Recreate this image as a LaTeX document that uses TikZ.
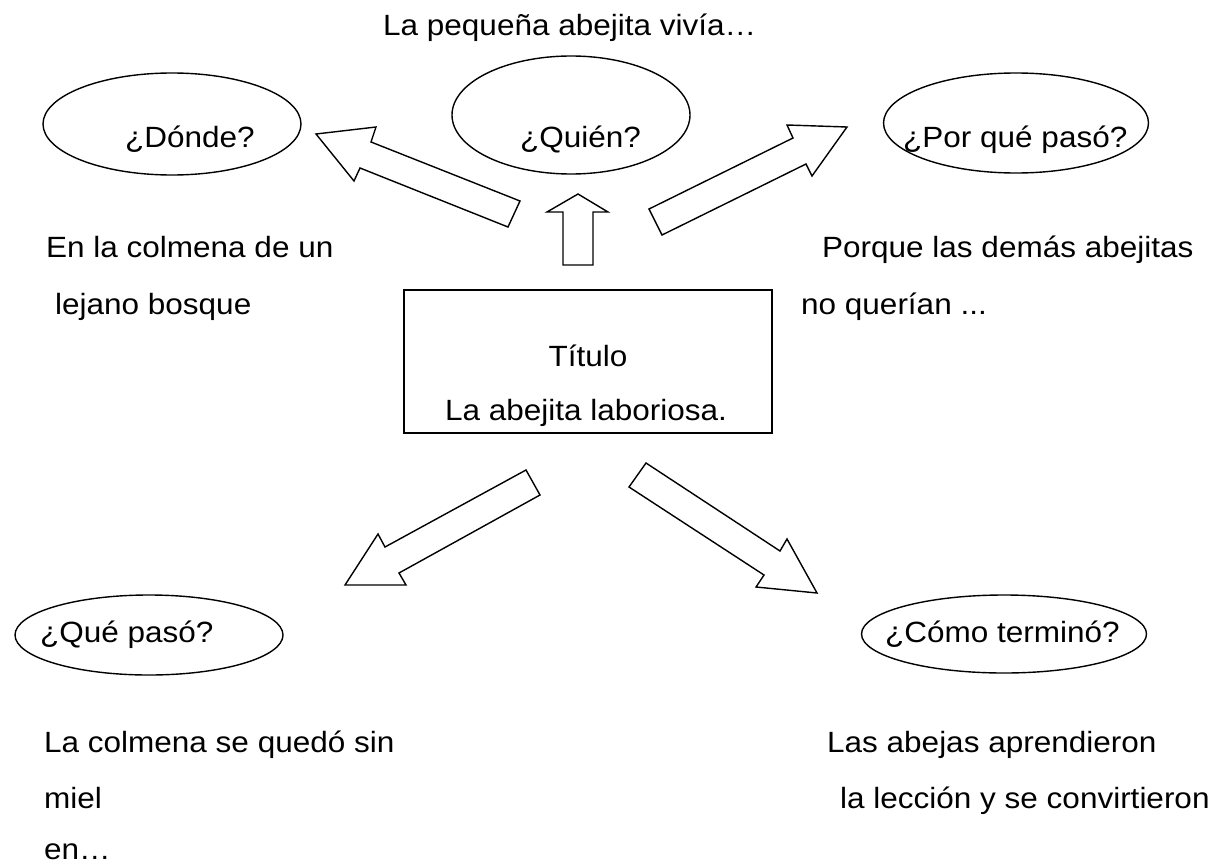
\documentclass[tikz,border=0pt]{standalone}
\usepackage{fontspec}
\setmainfont{Liberation Sans}[FakeStretch=1.075]
\usetikzlibrary{shapes.geometric}
\begin{document}
\begin{tikzpicture}[x=1pt,y=-1pt,
  lbl/.style={inner sep=0pt,font=\fontsize{29.3}{35}\selectfont},
  bubble/.style={draw,ellipse,inner sep=0pt,line width=1.4pt},
  blockarrow/.style={draw,line width=1.4pt,line join=miter},
  titlebox/.style={draw,line width=1.4pt,inner sep=0pt}]
\useasboundingbox (0,0) rectangle (1222,864);
% top text
\node[lbl,anchor=base west] (top) at (383,36) {La pequeña abejita vivía…};
% ellipses
\node[bubble,minimum width=258pt,minimum height=102pt] (e1) at (172,124) {};
\node[bubble,minimum width=238pt,minimum height=118pt] (e2) at (571,115) {};
\node[bubble,minimum width=265pt,minimum height=100pt] (e3) at (1016,123) {};
\node[bubble,minimum width=268pt,minimum height=80pt] (e4) at (149,635) {};
\node[bubble,minimum width=285pt,minimum height=78pt] (e5) at (1004,634) {};
\node[lbl,anchor=base west] (q1) at (125,147) {¿Dónde?};
\node[lbl,anchor=base west] (q2) at (520,147) {¿Quién?};
\node[lbl,anchor=base west] (q3) at (903,147) {¿Por qué pasó?};
\node[lbl,anchor=base west] (q4) at (40,642) {¿Qué pasó?};
\node[lbl,anchor=base west] (q5) at (885,642) {¿Cómo terminó?};
% centre box
\node[titlebox,minimum width=368pt,minimum height=143pt] (box) at (588,361.5) {};
\node[lbl,anchor=base] (t1) at (588,366) {Título};
\node[lbl,anchor=base] (t2) at (586,420) {La abejita laboriosa.};
% answers
\node[lbl,anchor=base west] (a1) at (46,257) {En la colmena de un};
\node[lbl,anchor=base west] (a1b) at (55,314) {lejano bosque};
\node[lbl,anchor=base west] (a3) at (822,257) {Porque las demás abejitas};
\node[lbl,anchor=base west] (a3b) at (801,314) {no querían ...};
\node[lbl,anchor=base west] (a4) at (44,752) {La colmena se quedó sin};
\node[lbl,anchor=base west] (a4b) at (44,808) {miel};
\node[lbl,anchor=base west] (a4c) at (44,859) {en…};
\node[lbl,anchor=base west] (a5) at (827,752) {Las abejas aprendieron};
\node[lbl,anchor=base west] (a5b) at (840,808) {la lección y se convirtieron};
% block arrows
\draw[blockarrow] (316,134) -- (376,127) -- (371,142) -- (520,201) -- (508,227) -- (360,168) -- (354,181) -- cycle;
\draw[blockarrow] (578,194) -- (608,212) -- (593,212) -- (593,265) -- (563,265) -- (563,212) -- (547,212) -- cycle;
\draw[blockarrow] (847,127) -- (787,125) -- (793,138) -- (649,209) -- (662,235) -- (806,164) -- (812,176) -- cycle;
\draw[blockarrow] (345,585) -- (378,534) -- (385,547) -- (526,470) -- (540,495) -- (399,573) -- (406,585) -- cycle;
\draw[blockarrow] (817,593) -- (787,539) -- (780,551) -- (646,463) -- (629,487) -- (764,575) -- (756,587) -- cycle;
\end{tikzpicture}
\end{document}
